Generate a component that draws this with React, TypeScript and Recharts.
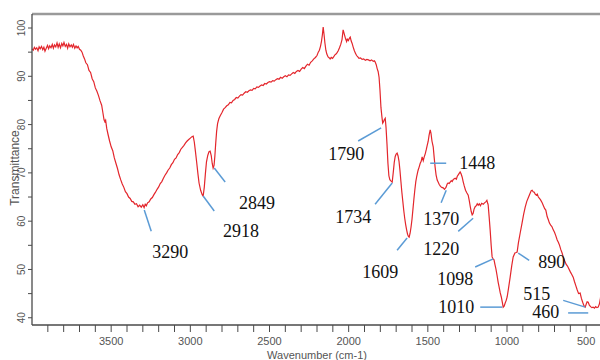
import * as React from "react";
import {
  LineChart,
  Line,
  XAxis,
  YAxis,
  ReferenceLine,
  ReferenceDot,
} from "recharts";

// FTIR spectrum (wavenumber in cm-1, transmittance in %)
const WAVENUMBERS = [
  4000, 3992, 3985, 3978, 3970, 3962, 3955, 3948, 3940, 3932, 3925, 3918, 3910, 3902, 3895, 3888,
  3880, 3872, 3865, 3858, 3850, 3842, 3835, 3828, 3820, 3812, 3805, 3798, 3790, 3782, 3775, 3768,
  3760, 3752, 3745, 3738, 3730, 3722, 3715, 3708, 3700, 3692, 3684, 3676, 3668, 3660, 3650, 3640,
  3630, 3620, 3610, 3600, 3590, 3580, 3570, 3560, 3552, 3545, 3540, 3535, 3528, 3520, 3510, 3500,
  3490, 3480, 3470, 3460, 3450, 3440, 3430, 3420, 3410, 3400, 3390, 3380, 3370, 3360, 3350, 3340,
  3330, 3320, 3310, 3300, 3292, 3285, 3278, 3270, 3260, 3250, 3240, 3230, 3220, 3210, 3200, 3190,
  3180, 3170, 3160, 3150, 3140, 3130, 3120, 3110, 3100, 3090, 3080, 3070, 3060, 3050, 3040, 3030,
  3020, 3010, 3000, 2990, 2982, 2975, 2968, 2960, 2952, 2945, 2935, 2925, 2919, 2912, 2905, 2898,
  2890, 2882, 2875, 2868, 2862, 2856, 2850, 2845, 2840, 2834, 2828, 2820, 2812, 2800, 2790, 2780,
  2770, 2760, 2750, 2740, 2730, 2720, 2710, 2700, 2690, 2680, 2670, 2660, 2650, 2640, 2630, 2620,
  2610, 2600, 2590, 2580, 2570, 2560, 2550, 2540, 2530, 2520, 2510, 2500, 2490, 2480, 2470, 2460,
  2450, 2440, 2430, 2420, 2410, 2400, 2390, 2380, 2370, 2360, 2350, 2340, 2330, 2320, 2310, 2300,
  2290, 2280, 2270, 2260, 2250, 2240, 2230, 2220, 2210, 2200, 2192, 2185, 2178, 2172, 2166, 2161,
  2156, 2150, 2144, 2138, 2130, 2122, 2117, 2110, 2102, 2095, 2088, 2080, 2073, 2066, 2058, 2050,
  2042, 2035, 2028, 2020, 2013, 2009, 2002, 1995, 1990, 1984, 1978, 1972, 1965, 1958, 1950, 1942,
  1935, 1925, 1915, 1905, 1895, 1885, 1875, 1865, 1855, 1845, 1838, 1833, 1826, 1820, 1814, 1808,
  1802, 1796, 1790, 1785, 1780, 1775, 1769, 1764, 1758, 1752, 1746, 1740, 1732, 1725, 1718, 1712,
  1706, 1700, 1694, 1688, 1682, 1676, 1670, 1664, 1658, 1652, 1646, 1640, 1634, 1628, 1622, 1618,
  1612, 1606, 1600, 1594, 1588, 1582, 1576, 1570, 1564, 1561, 1555, 1548, 1542, 1536, 1529, 1522,
  1516, 1510, 1504, 1498, 1492, 1485, 1480, 1474, 1466, 1460, 1454, 1448, 1441, 1435, 1428, 1420,
  1412, 1403, 1395, 1388, 1384, 1378, 1372, 1365, 1359, 1352, 1346, 1340, 1333, 1327, 1320, 1314,
  1308, 1302, 1296, 1290, 1283, 1277, 1270, 1262, 1254, 1245, 1238, 1232, 1226, 1220, 1214, 1208,
  1201, 1194, 1188, 1182, 1175, 1168, 1160, 1150, 1142, 1134, 1127, 1122, 1119, 1113, 1106, 1100,
  1094, 1088, 1082, 1076, 1070, 1063, 1056, 1050, 1043, 1036, 1030, 1024, 1018, 1012, 1005, 999,
  990, 980, 970, 961, 950, 942, 936, 928, 917, 905, 895, 885, 875, 865, 854, 847,
  841, 835, 828, 822, 815, 809, 802, 795, 788, 778, 770, 762, 755, 746, 740, 732,
  724, 715, 708, 700, 692, 683, 675, 668, 660, 652, 645, 636, 627, 618, 600, 590,
  582, 574, 566, 558, 548, 538, 530, 522, 514, 506, 500, 494, 487, 480, 472, 464,
  456, 448, 440, 432, 424, 416, 410, 404, 400,
];

const TRANSMITTANCE = [
  95.7, 95.4, 96.0, 95.6, 95.9, 95.3, 96.1, 95.7, 96.2, 95.5, 96.0, 95.2, 95.8, 96.4, 95.7, 96.3,
  95.9, 96.6, 95.8, 96.5, 96.1, 96.9, 96.0, 96.7, 95.9, 96.8, 96.3, 97.0, 96.2, 96.6, 95.8, 96.7,
  96.1, 96.5, 96.0, 96.6, 95.8, 96.3, 95.9, 96.2, 95.6, 95.4, 95.0, 94.2, 93.6, 92.8, 92.4, 91.2,
  90.8, 89.5, 88.9, 87.6, 86.9, 86.0, 84.9, 84.0, 82.4, 81.0, 80.6, 80.9, 79.2, 78.0, 76.6, 75.4,
  74.6, 73.1, 72.0, 70.9, 69.6, 68.6, 67.7, 67.0, 66.1, 65.7, 65.0, 64.7, 64.1, 64.0, 63.5, 63.6,
  63.0, 63.3, 62.9, 63.4, 62.8, 63.5, 63.2, 63.8, 64.0, 64.6, 64.9, 65.5, 66.0, 66.6, 67.1, 67.8,
  68.2, 68.9, 69.5, 70.0, 70.6, 71.0, 71.7, 72.1, 72.8, 73.1, 73.8, 74.2, 74.9, 75.3, 75.7, 76.2,
  76.6, 76.9, 77.2, 77.5, 77.6, 76.4, 74.5, 72.2, 69.8, 67.9, 66.4, 65.5, 65.2, 67.0, 69.8, 72.3,
  73.6, 74.4, 74.5, 73.6, 72.0, 71.0, 71.6, 73.5, 76.0, 78.6, 80.2, 81.2, 81.8, 82.5, 83.2, 83.5,
  83.9, 84.1, 84.6, 84.5, 85.0, 85.2, 85.6, 85.5, 85.9, 86.2, 86.1, 86.5, 86.8, 86.7, 87.0, 87.2,
  87.1, 87.5, 87.4, 87.8, 87.7, 88.0, 88.2, 88.1, 88.5, 88.4, 88.7, 88.9, 88.8, 89.1, 89.0, 89.3,
  89.5, 89.4, 89.8, 89.6, 89.9, 90.1, 89.9, 90.3, 90.2, 90.5, 90.8, 90.6, 91.0, 91.2, 91.0, 91.5,
  91.8, 91.6, 92.1, 92.5, 92.3, 92.9, 93.2, 93.6, 93.9, 94.3, 95.0, 95.4, 96.2, 97.2, 98.6, 100.2,
  98.8, 96.9, 95.4, 94.6, 94.0, 93.8, 93.6, 93.9, 93.7, 94.0, 94.4, 94.6, 94.9, 95.3, 95.9, 96.6,
  97.6, 99.6, 98.8, 97.8, 97.2, 97.7, 97.4, 97.9, 98.1, 97.3, 96.8, 96.1, 95.4, 94.8, 94.3, 94.0,
  93.7, 93.8, 93.5, 93.6, 93.3, 93.5, 93.4, 93.2, 93.4, 93.1, 93.2, 93.0, 92.4, 91.6, 91.0, 89.8,
  87.0, 83.5, 81.6, 80.3, 80.6, 81.0, 81.3, 79.4, 76.0, 72.0, 69.4, 68.6, 68.3, 68.1, 70.2, 72.2,
  73.4, 73.9, 74.1, 73.5, 72.4, 70.5, 68.2, 66.0, 64.1, 62.2, 60.6, 59.3, 58.2, 57.3, 56.8, 56.7,
  57.5, 58.8, 60.4, 62.5, 64.6, 66.5, 68.2, 69.3, 70.2, 70.6, 71.2, 72.0, 72.4, 73.3, 72.5, 73.4,
  74.0, 74.8, 75.7, 76.5, 77.8, 78.9, 78.2, 76.6, 75.4, 73.2, 71.2, 69.6, 68.5, 68.1, 67.6, 67.2,
  67.0, 66.9, 66.6, 66.9, 67.1, 67.7, 67.9, 67.8, 68.1, 68.4, 68.2, 68.6, 68.8, 68.9, 68.7, 69.3,
  69.6, 69.9, 70.2, 69.8, 69.1, 68.2, 67.3, 66.4, 65.9, 65.4, 64.2, 63.0, 62.0, 61.3, 61.6, 62.5,
  63.0, 63.2, 63.6, 63.3, 63.6, 63.2, 63.7, 63.5, 63.8, 64.0, 64.3, 63.7, 63.4, 61.0, 58.0, 55.0,
  52.6, 52.2, 52.0, 51.0, 50.1, 48.8, 47.4, 46.4, 45.2, 44.3, 43.3, 42.2, 42.4, 43.0, 43.6, 44.3,
  46.2, 48.4, 50.8, 52.6, 53.4, 53.5, 53.6, 55.5, 57.5, 59.6, 61.4, 62.9, 64.1, 64.9, 65.8, 66.3,
  66.4, 66.1, 66.0, 65.6, 65.4, 65.6, 65.0, 64.7, 64.4, 63.8, 63.2, 62.6, 62.3, 60.9, 60.4, 59.6,
  59.2, 58.8, 58.2, 57.7, 57.0, 56.1, 55.6, 55.0, 54.1, 53.4, 52.6, 51.8, 51.1, 50.7, 49.5, 48.9,
  48.4, 47.5, 46.7, 45.9, 45.0, 45.1, 44.0, 43.2, 42.5, 42.2, 42.8, 43.3, 43.2, 42.6, 42.3, 42.1,
  42.2, 42.0, 42.3, 42.1, 42.2, 42.9, 44.0, 45.5, 46.2,
];

const X_TICKS = [
  3900, 3800, 3700, 3600, 3500, 3400, 3300, 3200, 3100, 3000, 2900, 2800, 2700, 2600, 2500, 2400,
  2300, 2200, 2100, 2000, 1900, 1800, 1700, 1600, 1500, 1400, 1300, 1200, 1100, 1000, 900, 800,
  700, 600, 500, 400,
];
const Y_TICKS = [40, 45, 50, 55, 60, 65, 70, 75, 80, 85, 90, 95, 100];

// peak labels
const PEAK_LABELS = [
  "3290", "2918", "2849", "1790", "1734", "1609", "1448",
  "1370", "1220", "1098", "1010", "890", "515", "460",
];

// leader line [x1, y1, x2, y2] and label anchor [x, y] for each peak, in data units
const LEADERS = [
  [3291, 62.3, 3247, 57.9],
  [2919, 65.2, 2849, 62.1],
  [2849, 71.0, 2780, 68.1],
  [1940, 76.6, 1795, 79.3],
  [1833, 63.5, 1725, 67.9],
  [1694, 54.0, 1631, 56.5],
  [1485, 72.0, 1384, 72.0],
  [1416, 63.8, 1384, 66.4],
  [1308, 57.9, 1214, 60.6],
  [1201, 50.5, 1087, 52.2],
  [1169, 42.2, 1030, 42.2],
  [929, 53.4, 860, 51.9],
  [645, 43.6, 506, 42.2],
  [614, 41.0, 487, 41.0],
];
const LABEL_AT = [
  [3241, 52.4], [2793, 56.7], [2692, 62.5], [2129, 72.7], [2085, 59.6], [1915, 48.2], [1302, 70.8],
  [1529, 59.2], [1529, 53.0], [1441, 46.8], [1435, 41.0], [803, 50.3], [898, 43.7], [841, 39.9],
];

const Y_MIN = 38.5;
const Y_MAX = 102.9;

const RED = "#e3262c";
const BLUE = "#5b9bd5";
const AXIS = "#4a4a4a";
const SANS = "'Liberation Sans', Arial, sans-serif";
const SERIF = "'Liberation Serif', 'Times New Roman', serif";

function XTick(props: any) {
  const { x, y, payload } = props;
  if (payload.value % 500 !== 0) return null;
  return (
    <text x={x} y={y + 11} textAnchor="middle" fontSize={11} fill="#555" fontFamily={SANS}>
      {payload.value}
    </text>
  );
}

function YTick(props: any) {
  const { y, payload } = props;
  if (payload.value % 10 !== 0) return null;
  return (
    <text
      x={22}
      y={y}
      transform={`rotate(-90, 22, ${y})`}
      textAnchor="middle"
      dominantBaseline="central"
      fontSize={10}
      fill="#555"
      fontFamily={SANS}
    >
      {payload.value}
    </text>
  );
}

export default function App() {
  const rows = WAVENUMBERS.map((wn, i) => ({ wn, t: TRANSMITTANCE[i] }));

  return (
    <div
      style={{
        position: "absolute",
        left: 0,
        top: 0,
        width: 600,
        height: 360,
        overflow: "hidden",
        background: "#fff",
      }}
    >
      <LineChart
        width={610}
        height={360}
        data={rows}
        margin={{ top: 14, right: 8, bottom: 0, left: 0 }}
      >
        <XAxis
          dataKey="wn"
          type="number"
          domain={[400, 4000]}
          reversed
          ticks={X_TICKS}
          interval={0}
          tick={XTick}
          tickSize={7}
          tickMargin={2}
          height={35}
          stroke={AXIS}
          tickLine={{ stroke: AXIS }}
          axisLine={{ stroke: AXIS, strokeWidth: 1.3 }}
        />
        <YAxis
          type="number"
          domain={[Y_MIN, Y_MAX]}
          ticks={Y_TICKS}
          interval={0}
          tick={YTick}
          tickSize={4}
          width={32}
          stroke={AXIS}
          tickLine={{ stroke: AXIS }}
          axisLine={{ stroke: AXIS, strokeWidth: 1.3 }}
        />
        <ReferenceLine y={Y_MAX} stroke="#9a9a9a" strokeWidth={2.5} />
        <Line
          type="linear"
          dataKey="t"
          stroke={RED}
          strokeWidth={1.2}
          dot={false}
          isAnimationActive={false}
        />
        {LEADERS.map(([x1, y1, x2, y2], i) => (
          <ReferenceLine
            key={`lead-${i}`}
            segment={[
              { x: x1, y: y1 },
              { x: x2, y: y2 },
            ]}
            stroke={BLUE}
            strokeWidth={1.5}
            ifOverflow="visible"
          />
        ))}
        {PEAK_LABELS.map((label, i) => (
          <ReferenceDot
            key={`lab-${i}`}
            x={LABEL_AT[i][0]}
            y={LABEL_AT[i][1]}
            r={0}
            ifOverflow="visible"
            shape={(p: any) => (
              <text x={p.cx} y={p.cy} fontSize={18} fill="#111" fontFamily={SERIF}>
                {label}
              </text>
            )}
          />
        ))}
      </LineChart>
      <div
        style={{
          position: "absolute",
          left: 15,
          top: 168,
          transform: "translate(-50%, -50%) rotate(-90deg)",
          fontFamily: SANS,
          fontSize: 12,
          color: "#555",
          whiteSpace: "nowrap",
        }}
      >
        Transmittance
      </div>
      <div
        style={{
          position: "absolute",
          left: 317,
          top: 355,
          transform: "translate(-50%, -50%)",
          fontFamily: SANS,
          fontSize: 11,
          color: "#555",
          whiteSpace: "nowrap",
        }}
      >
        Wavenumber (cm-1)
      </div>
    </div>
  );
}
